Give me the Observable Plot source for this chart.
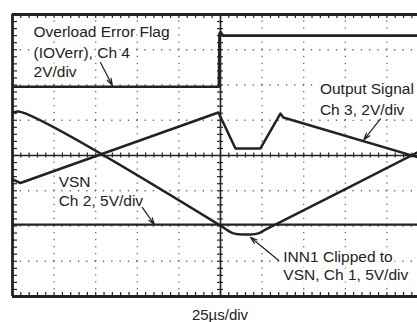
<!DOCTYPE html>
<html><head><meta charset="utf-8">
<script src="https://cdn.jsdelivr.net/npm/d3@7"></script>
<script src="https://cdn.jsdelivr.net/npm/@observablehq/plot@0.6"></script>
<style>
body{margin:0;background:#fff;font-family:"Liberation Sans",Arial,Helvetica,sans-serif;}
#wrap{position:relative;width:417px;height:322px;overflow:hidden;}
#cap{position:absolute;left:0;width:440px;top:306px;text-align:center;font-size:15px;color:#222;}
</style></head><body><div id="wrap"><div id="chart"></div><div id="cap">25µs/div</div></div>
<script>
// Time axis in divisions (25 µs/div), amplitude in divisions
const flagT = [0, 4.96, 4.975, 5.0, 5.06, 10];
const flagV = [1.95, 1.95, 3.45, 3.5, 3.4, 3.4];
const outT = [0, 0.19, 4.95, 5.36, 5.96, 6.44, 6.51, 10];
const outV = [-0.68, -0.78, 1.22, 0.2, 0.2, 1.19, 1.08, -0.14];
const innT = [0, 0.14, 5.0, 5.14, 5.31, 5.72, 5.91, 6.08, 6.27, 10];
const innV = [1.19, 1.25, -1.99, -2.1, -2.21, -2.24, -2.21, -2.1, -1.99, 0.25];
const vsnT = [0, 10];
const vsnV = [-1.96, -1.96];

const labelText = ["Overload Error Flag", "(IOVerr), Ch 4", "2V/div", "Output Signal", "Ch 3, 2V/div", "VSN", "Ch 2, 5V/div", "INN1 Clipped to", "VSN, Ch 1, 5V/div"];
const labelX = [0.505, 0.505, 0.505, 7.39, 7.39, 1.11, 1.11, 6.51, 6.51];
const labelY = [3.49, 2.92, 2.38, 1.89, 1.30, -0.75, -1.29, -2.87, -3.40];

const arrowX1 = [2.115, 8.846, 3.118, 6.40];
const arrowY1 = [2.64, 1.04, -1.47, -2.98];
const arrowX2 = [2.40, 8.445, 3.413, 5.72];
const arrowY2 = [1.99, 0.445, -1.96, -2.32];

const gridX = [1, 2, 3, 4, 6, 7, 8, 9];
const gridY = [-3, -2, -1, 1, 2, 3];
const minorX = d3.range(0, 10.001, 0.2);
const minorY = d3.range(-4, 4.001, 0.2);

const toRows = (T, V) => T.map((t, i) => ({t, v: V[i]}));
const flag = toRows(flagT, flagV), out = toRows(outT, outV), inn = toRows(innT, innV), vsn = toRows(vsnT, vsnV);
const labels = labelText.map((s, i) => ({s, x: labelX[i], y: labelY[i]}));
const arrows = arrowX1.map((x1, i) => ({x1, y1: arrowY1[i], x2: arrowX2[i], y2: arrowY2[i]}));

const W = 417, H = 300, mL = 12, mT = 14, mB = 4;
const pxX = 10 / (428 - mL);          // divisions per pixel (x)
const pxY = 8 / (H - mB - mT);        // divisions per pixel (y)
const ink = "#222";
const font = "Liberation Sans, Arial, Helvetica, sans-serif";

const chart = Plot.plot({
  width: W, height: H, marginLeft: mL, marginRight: 0, marginTop: mT, marginBottom: mB,
  x: {domain: [0, 10], range: [mL, 428], axis: null},
  y: {domain: [-4, 4], axis: null},
  style: {fontFamily: font, background: "white"},
  marks: [
    Plot.ruleX(gridX, {stroke: "#666", strokeWidth: 1.3, strokeDasharray: "1.3 5.75", strokeDashoffset: 0.65}),
    Plot.ruleY(gridY, {stroke: "#666", strokeWidth: 1.3, strokeDasharray: "1.3 7.02", strokeDashoffset: 0.65, clip: true}),
    // centre axes with minor ticks
    Plot.ruleY([0], {stroke: ink, strokeWidth: 1.6, clip: true}),
    Plot.ruleX([5], {stroke: ink, strokeWidth: 1.6}),
    Plot.ruleX(minorX, {x: d => d, y1: -2.5 * pxY, y2: 2.5 * pxY, stroke: ink, strokeWidth: 1.2, clip: true}),
    Plot.ruleY(minorY, {y: d => d, x1: 5 - 3 * pxX, x2: 5 + 3 * pxX, stroke: ink, strokeWidth: 1.2}),
    // frame edge ticks
    Plot.ruleX(minorX, {x: d => d, y1: 4, y2: 4 - 4 * pxY, stroke: ink, strokeWidth: 1.2, clip: true}),
    Plot.ruleX(minorX, {x: d => d, y1: -4, y2: -4 + 4 * pxY, stroke: ink, strokeWidth: 1.2, clip: true}),
    Plot.ruleY(minorY, {y: d => d, x1: 0, x2: 5 * pxX, stroke: ink, strokeWidth: 1.2}),
    // frame
    Plot.ruleY([4, -4], {stroke: ink, strokeWidth: 2.8}),
    Plot.ruleX([0], {stroke: ink, strokeWidth: 2.8}),
    // traces
    Plot.line(vsn, {x: "t", y: "v", stroke: ink, strokeWidth: 2.2, clip: true}),
    Plot.line(flag, {x: "t", y: "v", stroke: ink, strokeWidth: 2.6, clip: true}),
    Plot.line(inn, {x: "t", y: "v", stroke: ink, strokeWidth: 2.5, curve: "catmull-rom", clip: true}),
    Plot.line(out, {x: "t", y: "v", stroke: ink, strokeWidth: 2.5, clip: true}),
    // annotations
    Plot.text(labels, {x: "x", y: "y", text: "s", textAnchor: "start", fontSize: 15.5, fill: ink,
      stroke: "white", strokeWidth: 6, paintOrder: "stroke"}),
    Plot.arrow(arrows, {x1: "x1", y1: "y1", x2: "x2", y2: "y2", stroke: ink, strokeWidth: 1.2, headLength: 9, headAngle: 35})
  ]
});
document.getElementById("chart").appendChild(chart);
</script></body></html>
